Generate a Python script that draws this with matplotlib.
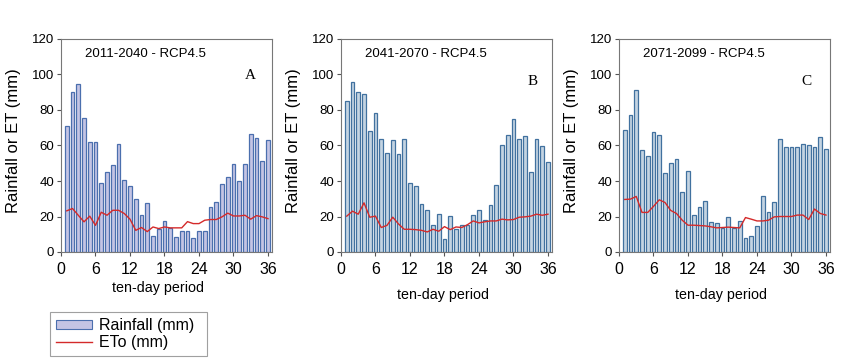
import matplotlib
matplotlib.use("Agg")
import matplotlib.pyplot as plt
from matplotlib.patches import Patch
from matplotlib.lines import Line2D
import numpy as np

plt.rcParams['font.family'] = ['Liberation Sans', 'DejaVu Sans']

periods = list(range(1, 37))

titles = ["2011-2040 - RCP4.5", "2041-2070 - RCP4.5", "2071-2099 - RCP4.5"]
letters = ["A", "B", "C"]

rain_A = [71, 90, 94.8, 75.5, 61.8, 61.8, 38.8, 45, 49, 61, 40.5, 37, 29.8, 20.7, 27.5, 9,
          12.8, 17.7, 13.4, 8.5, 12, 11.7, 7.7, 12, 12, 25.6, 27.9, 38.2, 42.2, 49.7, 40,
          49.5, 66.7, 64.2, 51.2, 63.1]
et_A = [23.2, 24.5, 20.7, 17, 20.2, 15, 22.4, 20.7, 23.5, 23.5, 21.7, 18.5, 12.2, 13.8,
        11.5, 14.1, 13.2, 14.1, 13.6, 13.6, 13.6, 17.1, 16, 16, 17.9, 18.3, 18.3, 19.8,
        21.9, 20.3, 20.3, 20.7, 18.5, 20.5, 19.8, 18.8]

rain_B = [85.3, 95.7, 90.4, 88.9, 68, 78.2, 63.7, 55.6, 63.1, 55, 63.9, 39, 37.1, 26.9,
          23.9, 15.4, 21.5, 7.5, 20.3, 13.2, 15.4, 15, 21.1, 23.9, 18.3, 26.2, 37.9, 60.3,
          65.8, 75.2, 63.9, 65.4, 45, 63.7, 59.9, 50.5]
et_B = [20.2, 23, 21.3, 27.7, 19.6, 20.2, 13.8, 15, 19.6, 15.8, 12.8, 12.8, 12.6, 12.2,
        11.3, 12.8, 11.7, 14.3, 12.6, 14.1, 13.8, 15.4, 17.5, 16.4, 17, 17.5, 17.5, 18.5,
        18.1, 18.3, 19.6, 19.8, 20.2, 21.3, 20.7, 21.3]

rain_C = [68.7, 77.4, 91.5, 57.5, 54, 67.4, 66, 44.7, 50, 52.6, 33.8, 45.5, 21, 25.5,
          28.7, 16.8, 16.6, 13.4, 19.6, 13.8, 17.4, 7.9, 8.9, 14.7, 31.3, 22.6, 28.1, 63.4,
          59, 59.2, 58.9, 60.8, 60, 59.2, 65, 57.9]
et_C = [29.6, 29.8, 31.3, 22.3, 22.3, 25.7, 29.4, 27.9, 23.4, 21.7, 17.9, 15.1, 15.1,
        14.9, 14.7, 14.2, 13.6, 13.8, 14, 13.8, 13.6, 19.4, 18.5, 17.5, 17.5, 17.9, 19.8,
        20, 20, 20, 20.8, 20.8, 18.3, 24.2, 21.7, 20.8]

rains = [rain_A, rain_B, rain_C]
ets = [et_A, et_B, et_C]

bar_faces = ["#c4c4e4", "#c4d4e2", "#c4d4e2"]
bar_edges = ["#4b6fae", "#41719f", "#41719f"]
et_color = "#d42a2a"

W, H = 850, 359
fig = plt.figure(figsize=(W / 100, H / 100), dpi=100)

lefts = [61, 341, 619]
xlabel_x = [158, 443, 721]
xlabel_y = [288, 295, 295]
letter_pos = [(0.896, 0.83), (0.91, 0.80), (0.89, 0.80)]
for i in range(3):
    l = lefts[i]
    ax = fig.add_axes([l / W, (H - 252) / H, 211 / W, 213 / H])
    ax.bar(periods, rains[i], width=0.68, color=bar_faces[i], edgecolor=bar_edges[i],
           linewidth=0.9, zorder=2)
    ax.plot(periods, ets[i], color=et_color, linewidth=1.0, zorder=3)
    ax.set_xlim(0, 36.7)
    ax.set_ylim(0, 120)
    ax.set_xticks([0, 6, 12, 18, 24, 30, 36])
    ax.set_yticks([0, 20, 40, 60, 80, 100, 120])
    ax.tick_params(direction='out', length=3, width=0.8, color='#555555', pad=2)
    ax.tick_params(axis='y', labelsize=9.5)
    ax.tick_params(axis='x', labelsize=11.5, pad=4)
    for s in ax.spines.values():
        s.set_color('#777777')
        s.set_linewidth(0.8)
    ax.set_ylabel("Rainfall or ET (mm)", fontsize=12)
    ax.yaxis.set_label_coords(-40 / 211, 0.522)
    fig.text(xlabel_x[i] / W, 1 - xlabel_y[i] / H, "ten-day period", fontsize=10.3,
             ha='center', va='center')
    ax.text(0.40, 0.93, titles[i], transform=ax.transAxes, fontsize=9.5,
            ha='center', va='center')
    ax.text(letter_pos[i][0], letter_pos[i][1], letters[i], transform=ax.transAxes,
            fontsize=11, family='Liberation Serif', ha='center', va='center')

handles = [Patch(facecolor=bar_faces[0], edgecolor=bar_edges[0], linewidth=0.8),
           Line2D([], [], color=et_color, linewidth=1.0)]
leg = fig.legend(handles, ["Rainfall (mm)", "ETo (mm)"],
                 loc='lower left', bbox_to_anchor=(50 / W, 3 / H, 157 / W, 52 / H),
                 mode='expand', fontsize=11.5, frameon=True, fancybox=False,
                 edgecolor='#888888', handlelength=2.25, handleheight=0.45,
                 handletextpad=0.4, labelspacing=0.1, borderpad=0.4,
                 borderaxespad=0, shadow=False)
leg.get_frame().set_linewidth(0.8)

fig.savefig("out.png", dpi=100)
